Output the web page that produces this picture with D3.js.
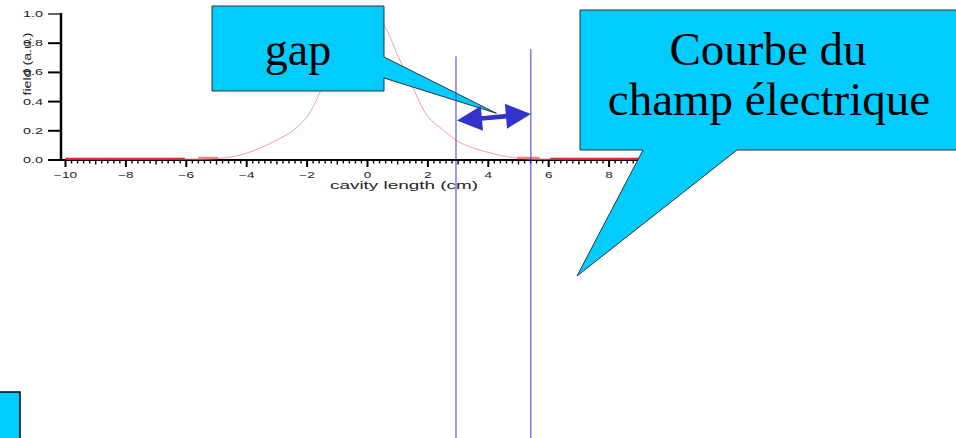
<!DOCTYPE html>
<html>
<head>
<meta charset="utf-8">
<script src="https://cdn.jsdelivr.net/npm/d3@7"></script>
<style>
  html, body { margin: 0; padding: 0; background: #fff; }
  svg { display: block; }
</style>
</head>
<body>
<svg id="chart" width="956" height="438"></svg>
<script>
// Electric field profile along the cavity (cm, arbitrary units)
const positions = [-10, -9.5, -9, -8.5, -8, -7.5, -7, -6.5, -6, -5.5, -5, -4.5, -4, -3.5, -3, -2.5, -2, -1.5, -1, -0.5,
                   0, 0.5, 1, 1.5, 2, 2.5, 3, 3.5, 4, 4.5, 5, 5.5, 6, 6.5, 7, 7.5, 8, 8.5, 9, 9.5, 10];
const field = [0, 0, 0, 0, 0, 0, 0, 0, 0, 0, 0.004, 0.015, 0.04, 0.08, 0.13, 0.19, 0.29, 0.49, 0.72, 0.93,
               1.0, 0.93, 0.71, 0.49, 0.29, 0.2, 0.12, 0.075, 0.045, 0.02, 0.006, 0, 0, 0, 0, 0, 0, 0, 0, 0, 0];

// Baseline stretches of the trace (cm ranges)
const baselineDark = [[-10, -6.05], [6.05, 10]];
const baselinePink = [[-5.6, -4.95], [4.95, 5.7]];

// Gap edges (cm), top of each marker line (field units), arrow heights (field units)
const gapEdges = [2.93, 5.41];
const gapTops = [0.71, 0.76];
const arrowLevels = [0.27, 0.315];

const xTicks = [-10, -8, -6, -4, -2, 0, 2, 4, 6, 8, 10];
const yTicks = [0, 0.2, 0.4, 0.6, 0.8, 1.0];
const yTickLabels = ["0.0", "0.2", "0.4", "0.6", "0.8", "1.0"];

const svg = d3.select("#chart");
const W = 956, H = 438;

const x = d3.scaleLinear().domain([-10, 10]).range([65.5, 669.5]);
const y = d3.scaleLinear().domain([0, 1]).range([160, 14]);

const sans = "'Liberation Sans', Arial, sans-serif";
const serif = "'Liberation Serif', 'Times New Roman', serif";

// ---- axes ----
const ax = svg.append("g");
// y axis
ax.append("line").attr("x1", 61).attr("x2", 61).attr("y1", y(1) - 1).attr("y2", y(0) + 1)
  .attr("stroke", "#000").attr("stroke-width", 2.5);
yTicks.forEach((v, i) => {
  ax.append("line").attr("x1", 48).attr("x2", 61).attr("y1", y(v)).attr("y2", y(v))
    .attr("stroke", "#000").attr("stroke-width", v === 1 ? 1.2 : 2);
  ax.append("text")
    .attr("transform", `translate(43,${y(v) + 3}) scale(1.7,1)`)
    .attr("text-anchor", "end")
    .attr("font-family", sans).attr("font-size", 8.5).attr("fill", "#222")
    .text(yTickLabels[i]);
});
// x axis
ax.append("line").attr("x1", 60).attr("x2", x(10)).attr("y1", 160).attr("y2", 160)
  .attr("stroke", "#000").attr("stroke-width", 2);
const minor = d3.range(-10, 10.001, 0.2).map(v => Math.round(v * 10) / 10);
minor.forEach(v => {
  const isMajor = Math.abs(v % 2) < 1e-6;
  const isOdd = !isMajor && Math.abs(v % 1) < 1e-6;
  const len = isMajor ? 7 : (isOdd ? 4.5 : 3.5);
  ax.append("line").attr("x1", x(v)).attr("x2", x(v)).attr("y1", 160).attr("y2", 160 + len)
    .attr("stroke", "#000").attr("stroke-width", isMajor ? 2 : 1.4);
});
xTicks.forEach(v => {
  ax.append("text")
    .attr("transform", `translate(${x(v)},${178}) scale(1.6,1)`)
    .attr("text-anchor", "middle")
    .attr("font-family", sans).attr("font-size", 8.5).attr("fill", "#222")
    .text(d3.format("d")(v));
});
// axis titles
ax.append("text")
  .attr("x", 404).attr("y", 189)
  .attr("text-anchor", "middle")
  .attr("font-family", sans).attr("font-size", 10.5).attr("fill", "#222")
  .attr("textLength", 148).attr("lengthAdjust", "spacingAndGlyphs")
  .text("cavity length (cm)");
ax.append("text")
  .attr("transform", "translate(31,64) rotate(-90)")
  .attr("text-anchor", "middle")
  .attr("font-family", sans).attr("font-size", 11.5).attr("fill", "#222")
  .attr("textLength", 63).attr("lengthAdjust", "spacingAndGlyphs")
  .text("field (a.u.)");

// ---- field curve ----
const pts = positions.map((p, i) => [p, field[i]]);
svg.append("path")
  .datum(pts)
  .attr("d", d3.line().x(d => x(d[0])).y(d => y(d[1]) - 1).curve(d3.curveCatmullRom.alpha(0.5)))
  .attr("fill", "none").attr("stroke", "#ff9c9c").attr("stroke-width", 1);
baselineDark.forEach(r => {
  svg.append("line").attr("x1", x(r[0])).attr("x2", x(r[1])).attr("y1", 158.5).attr("y2", 158.5)
    .attr("stroke", "#d42a2a").attr("stroke-width", 1.5);
});
baselinePink.forEach(r => {
  svg.append("line").attr("x1", x(r[0])).attr("x2", x(r[1])).attr("y1", 158).attr("y2", 158)
    .attr("stroke", "#f28080").attr("stroke-width", 2.5);
});

// ---- callouts ----
const arrowMid = [(x(gapEdges[0]) + x(gapEdges[1])) / 2, (y(arrowLevels[0]) + y(arrowLevels[1])) / 2];
const tip = [arrowMid[0] + 3, arrowMid[1] - 4];

svg.append("path")
  .attr("d", d3.line()([[212, 6], [384, 6], [384, 57], tip, [384, 78], [384, 91], [212, 91]]) + "Z")
  .attr("fill", "#00ccff").attr("stroke", "#333").attr("stroke-width", 1);
svg.append("text")
  .attr("x", 298).attr("y", 65)
  .attr("text-anchor", "middle")
  .attr("font-family", serif).attr("font-size", 46).attr("fill", "#000")
  .text("gap");

svg.append("path")
  .attr("d", d3.line()([[580, 10], [958, 10], [958, 150], [737, 150], [577, 276], [643, 150], [580, 150]]) + "Z")
  .attr("fill", "#00ccff").attr("stroke", "#333").attr("stroke-width", 1);
svg.append("text")
  .attr("x", 768).attr("y", 65)
  .attr("text-anchor", "middle")
  .attr("font-family", serif).attr("font-size", 47).attr("fill", "#000")
  .text("Courbe du");
svg.append("text")
  .attr("x", 769).attr("y", 115)
  .attr("text-anchor", "middle")
  .attr("font-family", serif).attr("font-size", 47).attr("fill", "#000")
  .text("champ électrique");

// small box at the lower left corner
svg.append("rect").attr("x", -2).attr("y", 392).attr("width", 22).attr("height", 50)
  .attr("fill", "#00ccff").attr("stroke", "#000").attr("stroke-width", 1.5);

// ---- gap markers ----
gapEdges.forEach((g, i) => {
  svg.append("line").attr("x1", x(g)).attr("x2", x(g)).attr("y1", y(gapTops[i])).attr("y2", H)
    .attr("stroke", "#3a3ad8").attr("stroke-width", 1);
});

// double-headed arrow between the gap edges
(function () {
  const p0 = [x(gapEdges[0]) + 1, y(arrowLevels[0])];
  const p1 = [x(gapEdges[1]), y(arrowLevels[1])];
  const dx = p1[0] - p0[0], dy = p1[1] - p0[1];
  const L = Math.hypot(dx, dy);
  const ux = dx / L, uy = dy / L, nx = -uy, ny = ux;
  const headLen = 25, headHalf = 12.5, shaftHalf = 2.3;
  const at = (t, s) => [p0[0] + ux * t + nx * s, p0[1] + uy * t + ny * s];
  const g = svg.append("g").attr("fill", "#3333cc");
  g.append("path").attr("d", d3.line()([at(0, 0), at(headLen, -headHalf), at(headLen, headHalf)]) + "Z");
  g.append("path").attr("d", d3.line()([at(L, 0), at(L - headLen, -headHalf), at(L - headLen, headHalf)]) + "Z");
  g.append("path").attr("d", d3.line()([at(headLen - 1, -shaftHalf), at(L - headLen + 1, -shaftHalf),
                                         at(L - headLen + 1, shaftHalf), at(headLen - 1, shaftHalf)]) + "Z");
})();
</script>
</body>
</html>
